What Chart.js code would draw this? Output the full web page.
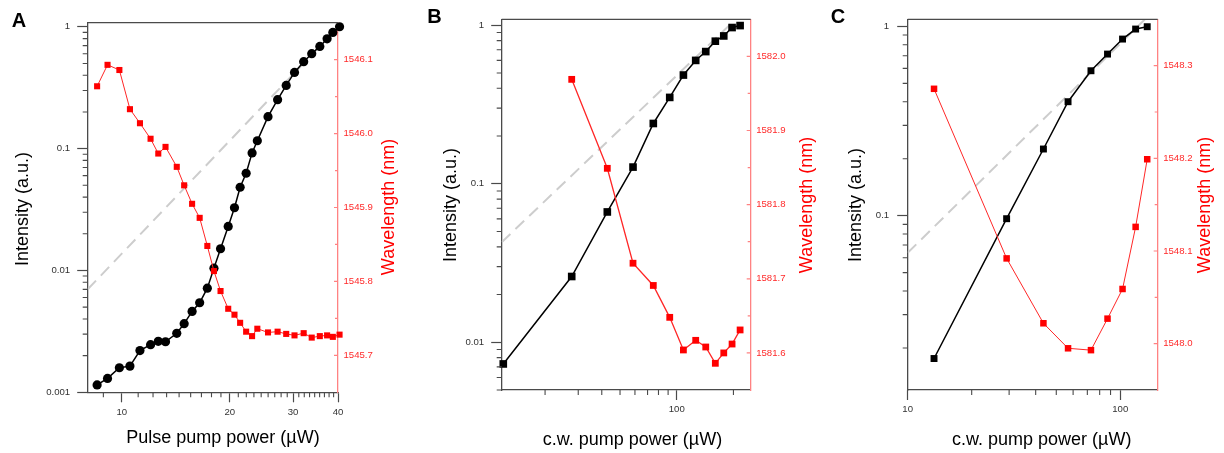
<!DOCTYPE html>
<html><head><meta charset="utf-8">
<script src="https://cdn.jsdelivr.net/npm/chart.js@4.4.1/dist/chart.umd.min.js"></script>
<style>
html,body{margin:0;padding:0;background:#fff;}
#wrap{position:relative;width:1224px;height:453px;overflow:hidden;background:#fff;}
.panel{position:absolute;top:0;}
canvas{display:block;}
</style></head><body>
<div id="wrap">
<div class="panel" style="left:0px"><canvas id="cA" width="410" height="453"></canvas></div>
<div class="panel" style="left:410px"><canvas id="cB" width="420" height="453"></canvas></div>
<div class="panel" style="left:810px"><canvas id="cC" width="414" height="453"></canvas></div>
</div>
<script>
// ---------- Panel A data (pulse pump) ----------
const powerA = [8.54, 9.13, 9.85, 10.54, 11.24, 12.03, 12.64, 13.24, 14.23, 14.92, 15.70, 16.48, 17.31, 18.06, 18.84, 19.79, 20.6, 21.36, 22.2, 23.06, 23.85, 25.54, 27.16, 28.7, 30.27, 32.1, 33.8, 35.6, 37.3, 38.7, 40.4];
const intensityA = [0.00115, 0.0013, 0.00159, 0.00164, 0.0022, 0.00246, 0.00262, 0.0026, 0.00305, 0.00366, 0.00461, 0.00543, 0.00716, 0.01045, 0.01507, 0.0230, 0.0327, 0.0482, 0.0628, 0.0922, 0.116, 0.183, 0.252, 0.330, 0.422, 0.517, 0.601, 0.690, 0.797, 0.898, 1.0];
const wavelengthA = [1546.064, 1546.093, 1546.086, 1546.033, 1546.014, 1545.993, 1545.973, 1545.982, 1545.955, 1545.930, 1545.905, 1545.886, 1545.848, 1545.814, 1545.787, 1545.763, 1545.755, 1545.744, 1545.732, 1545.726, 1545.736, 1545.731, 1545.732, 1545.729, 1545.727, 1545.730, 1545.724, 1545.726, 1545.727, 1545.725, 1545.728];
const fitPowerA = [8.04, 40.4];
const fitIntensityA = [0.007, 1.02];

// ---------- Panel B data (c.w. pump) ----------
const powerB = [12.0, 27.7, 42.8, 58.6, 75.1, 91.8, 108.5, 126.1, 142.6, 160.3, 177.7, 196.7, 217];
const intensityB = [0.0073, 0.026, 0.0664, 0.1274, 0.240, 0.3505, 0.485, 0.600, 0.682, 0.793, 0.856, 0.967, 0.995];
const wavelengthB = [null, 1581.969, 1581.849, 1581.721, 1581.691, 1581.648, 1581.604, 1581.617, 1581.608, 1581.586, 1581.600, 1581.612, 1581.631];
const fitPowerB = [11.77, 205.6];
const fitIntensityB = [0.0428, 1.09];

// ---------- Panel C data (c.w. pump) ----------
const powerC = [13.3, 29.2, 43.5, 56.8, 72.8, 87.1, 102.5, 118.1, 133.9];
const intensityC = [0.0176, 0.0964, 0.225, 0.400, 0.583, 0.714, 0.857, 0.968, 0.996];
const wavelengthC = [1548.275, 1548.092, 1548.022, 1547.995, 1547.993, 1548.027, 1548.059, 1548.126, 1548.199];
const fitPowerC = [10, 130.6];
const fitIntensityC = [0.0637, 1.089];

// ---------- Tick values ----------
const xMajorA = [10, 20, 30, 40];
const xMinorA = [8.889, 11.111, 12.222, 13.333, 14.444, 15.556, 16.667, 17.778, 18.889,
                 21.111, 22.222, 23.333, 24.444, 25.556, 26.667, 27.778, 28.889,
                 31.111, 32.222, 33.333, 34.444, 35.556, 36.667, 37.778, 38.889];
const xMajorB = [100];
const xMinorB = [20, 30, 40, 50, 60, 70, 80, 90, 200];
const xMajorC = [10, 100];
const xMinorC = [20, 30, 40, 50, 60, 70, 80, 90];

const yMajorA = [0.001, 0.01, 0.1, 1];
const yMajorB = [0.01, 0.1, 1];
const yMajorC = [0.1, 1];
const yMinorLog = [0.002, 0.003, 0.004, 0.005, 0.006, 0.007, 0.008, 0.009,
                   0.02, 0.03, 0.04, 0.05, 0.06, 0.07, 0.08, 0.09,
                   0.2, 0.3, 0.4, 0.5, 0.6, 0.7, 0.8, 0.9];

const wlMajorA = [1545.7, 1545.8, 1545.9, 1546.0, 1546.1];
const wlMinorA = [1545.75, 1545.85, 1545.95, 1546.05];
const wlMajorB = [1581.6, 1581.7, 1581.8, 1581.9, 1582.0];
const wlMinorB = [1581.65, 1581.75, 1581.85, 1581.95];
const wlMajorC = [1548.0, 1548.1, 1548.2, 1548.3];
const wlMinorC = [1548.05, 1548.15, 1548.25];

// ---------- Styling ----------
const FONT = '"Liberation Sans", Arial, Helvetica, sans-serif';
const AXIS = '#4a4a4a';
const RED_AXIS = '#ff8282';
const TICK_TXT = '#333333';
const RED_TXT = '#ff2a2a';

function pts(xs, ys) {
  return xs.map((x, i) => ({x: x, y: ys[i]})).filter(p => p.y !== null);
}

const decor = {
  id: 'decor',
  afterDraw(chart, args, o) {
    const {ctx, chartArea: a, scales: s} = chart;
    ctx.save();
    // top frame line
    ctx.strokeStyle = AXIS; ctx.lineWidth = 1.3;
    ctx.beginPath(); ctx.moveTo(a.left, a.top); ctx.lineTo(a.right, a.top); ctx.stroke();
    // minor ticks (outward) on bottom and left axes
    ctx.lineWidth = 1.1;
    ctx.beginPath();
    o.xMinor.forEach(v => {
      const p = s.x.getPixelForValue(v);
      if (p >= a.left - 0.5 && p <= a.right + 0.5) { ctx.moveTo(p, a.bottom); ctx.lineTo(p, a.bottom + 5); }
    });
    o.yMinor.forEach(v => {
      const p = s.y.getPixelForValue(v);
      if (p >= a.top - 0.5 && p <= a.bottom + 0.5) { ctx.moveTo(a.left, p); ctx.lineTo(a.left - 5, p); }
    });
    ctx.stroke();
    // right axis ticks (inward)
    ctx.strokeStyle = RED_AXIS; ctx.lineWidth = 1.2;
    ctx.beginPath();
    o.y2Major.forEach(v => { const p = s.y2.getPixelForValue(v); ctx.moveTo(a.right, p); ctx.lineTo(a.right - 4, p); });
    o.y2Minor.forEach(v => { const p = s.y2.getPixelForValue(v); ctx.moveTo(a.right, p); ctx.lineTo(a.right - 3, p); });
    ctx.stroke();
    // axis titles
    ctx.font = '18px ' + FONT;
    ctx.textAlign = 'center'; ctx.textBaseline = 'alphabetic';
    ctx.fillStyle = '#000';
    ctx.fillText(o.xTitle, o.xTitlePos[0], o.xTitlePos[1]);
    ctx.save(); ctx.translate(o.yTitlePos[0], o.yTitlePos[1]); ctx.rotate(-Math.PI / 2);
    ctx.fillText(o.yTitle, 0, 0); ctx.restore();
    ctx.fillStyle = '#ff0000';
    ctx.save(); ctx.translate(o.y2TitlePos[0], o.y2TitlePos[1]); ctx.rotate(-Math.PI / 2);
    ctx.fillText(o.y2Title, 0, 0); ctx.restore();
    // panel letter
    ctx.fillStyle = '#000'; ctx.font = 'bold 20px ' + FONT; ctx.textAlign = 'left';
    ctx.fillText(o.letter, o.letterPos[0], o.letterPos[1]);
    ctx.restore();
  }
};

function build(id, p) {
  return new Chart(document.getElementById(id), {
    type: 'scatter',
    data: { datasets: [
      { label: 'Wavelength', data: pts(p.x, p.wl), yAxisID: 'y2', showLine: true,
        borderColor: '#ff2626', borderWidth: p.redLine, pointStyle: 'rect', pointRadius: p.redR,
        pointBackgroundColor: '#ff0000', pointBorderWidth: 0, clip: false },
      { label: 'Intensity', data: pts(p.x, p.int), yAxisID: 'y', showLine: true,
        borderColor: '#000', borderWidth: 1.5, pointStyle: p.blackStyle, pointRadius: p.blackR,
        pointBackgroundColor: '#000', pointBorderWidth: 0, clip: false },
      { label: 'Fit', data: pts(p.fitX, p.fitY), yAxisID: 'y', showLine: true,
        borderColor: '#cdcdcd', borderWidth: 2, borderDash: [12, 7], pointRadius: 0 }
    ]},
    options: {
      responsive: false, animation: false, devicePixelRatio: 1, events: [],
      layout: { padding: { top: p.top, left: 0, right: 0, bottom: 0 } },
      plugins: { legend: { display: false }, tooltip: { enabled: false }, decor: p.decor },
      scales: {
        x: { type: 'logarithmic', position: 'bottom', min: p.xMin, max: p.xMax,
          afterBuildTicks: s => { s.ticks = p.xMajor.map(v => ({value: v})); },
          afterFit: s => { s.height = p.xH; },
          ticks: { autoSkip: false, maxRotation: 0, minRotation: 0, padding: 4, color: TICK_TXT,
                   font: { family: FONT, size: 9.6 }, callback: v => String(v) },
          grid: { display: true, drawOnChartArea: false, drawTicks: true, tickLength: 10, tickColor: AXIS, tickWidth: 1.2 },
          border: { display: true, color: AXIS, width: 1.3 } },
        y: { type: 'logarithmic', position: 'left', min: p.yMin, max: p.yMax,
          afterBuildTicks: s => { s.ticks = p.yMajor.map(v => ({value: v})); },
          afterFit: s => { s.width = p.leftW; },
          ticks: { autoSkip: false, padding: p.yPad, color: TICK_TXT,
                   font: { family: FONT, size: 9.6 }, callback: v => String(v) },
          grid: { display: true, drawOnChartArea: false, drawTicks: true, tickLength: 10.5, tickColor: AXIS, tickWidth: 1.2 },
          border: { display: true, color: AXIS, width: 1.3 } },
        y2: { type: 'linear', position: 'right', min: p.wMin, max: p.wMax,
          afterBuildTicks: s => { s.ticks = p.wMajor.map(v => ({value: v})); },
          afterFit: s => { s.width = p.rightW; },
          ticks: { autoSkip: false, padding: 5.5, color: RED_TXT,
                   font: { family: FONT, size: 9.6 }, callback: v => Number(v).toFixed(1) },
          grid: { display: true, drawOnChartArea: false, drawTicks: false },
          border: { display: true, color: RED_AXIS, width: 1.3 } }
      }
    },
    plugins: [decor]
  });
}

build('cA', {
  x: powerA, int: intensityA, wl: wavelengthA, fitX: fitPowerA, fitY: fitIntensityA,
  blackStyle: 'circle', blackR: 4.6, redR: 4.3, redLine: 1,
  top: 22.7, xH: 60.7, leftW: 87.7, rightW: 72, yPad: 7,
  xMin: 8.04, xMax: 40, yMin: 0.001, yMax: 1.08, wMin: 1545.65, wMax: 1546.15,
  xMajor: xMajorA, yMajor: yMajorA, wMajor: wlMajorA,
  decor: { xMinor: xMinorA, yMinor: yMinorLog, y2Major: wlMajorA, y2Minor: wlMinorA,
    xTitle: 'Pulse pump power (µW)', xTitlePos: [223, 443],
    yTitle: 'Intensity (a.u.)', yTitlePos: [28, 209],
    y2Title: 'Wavelength (nm)', y2TitlePos: [394, 207],
    letter: 'A', letterPos: [11.7, 26.7] }
});

build('cB', {
  x: powerB, int: intensityB, wl: wavelengthB, fitX: fitPowerB, fitY: fitIntensityB,
  blackStyle: 'rect', blackR: 5.4, redR: 4.8, redLine: 1.3,
  top: 19.3, xH: 63, leftW: 91.7, rightW: 79.3, yPad: 7,
  xMin: 11.77, xMax: 247, yMin: 0.005, yMax: 1.09, wMin: 1581.55, wMax: 1582.05,
  xMajor: xMajorB, yMajor: yMajorB, wMajor: wlMajorB,
  decor: { xMinor: xMinorB, yMinor: yMinorLog, y2Major: wlMajorB, y2Minor: wlMinorB,
    xTitle: 'c.w. pump power (µW)', xTitlePos: [222.5, 445],
    yTitle: 'Intensity (a.u.)', yTitlePos: [46.3, 205],
    y2Title: 'Wavelength (nm)', y2TitlePos: [402, 205],
    letter: 'B', letterPos: [17.3, 23.3] }
});

build('cC', {
  x: powerC, int: intensityC, wl: wavelengthC, fitX: fitPowerC, fitY: fitIntensityC,
  blackStyle: 'rect', blackR: 4.9, redR: 4.6, redLine: 1,
  top: 19.3, xH: 63, leftW: 97.7, rightW: 66.3, yPad: 8,
  xMin: 10, xMax: 150, yMin: 0.012, yMax: 1.09, wMin: 1547.95, wMax: 1548.35,
  xMajor: xMajorC, yMajor: yMajorC, wMajor: wlMajorC,
  decor: { xMinor: xMinorC, yMinor: yMinorLog, y2Major: wlMajorC, y2Minor: wlMinorC,
    xTitle: 'c.w. pump power (µW)', xTitlePos: [231.7, 445],
    yTitle: 'Intensity (a.u.)', yTitlePos: [50.5, 205],
    y2Title: 'Wavelength (nm)', y2TitlePos: [399.7, 205],
    letter: 'C', letterPos: [20.7, 23.3] }
});
</script>
</body></html>
